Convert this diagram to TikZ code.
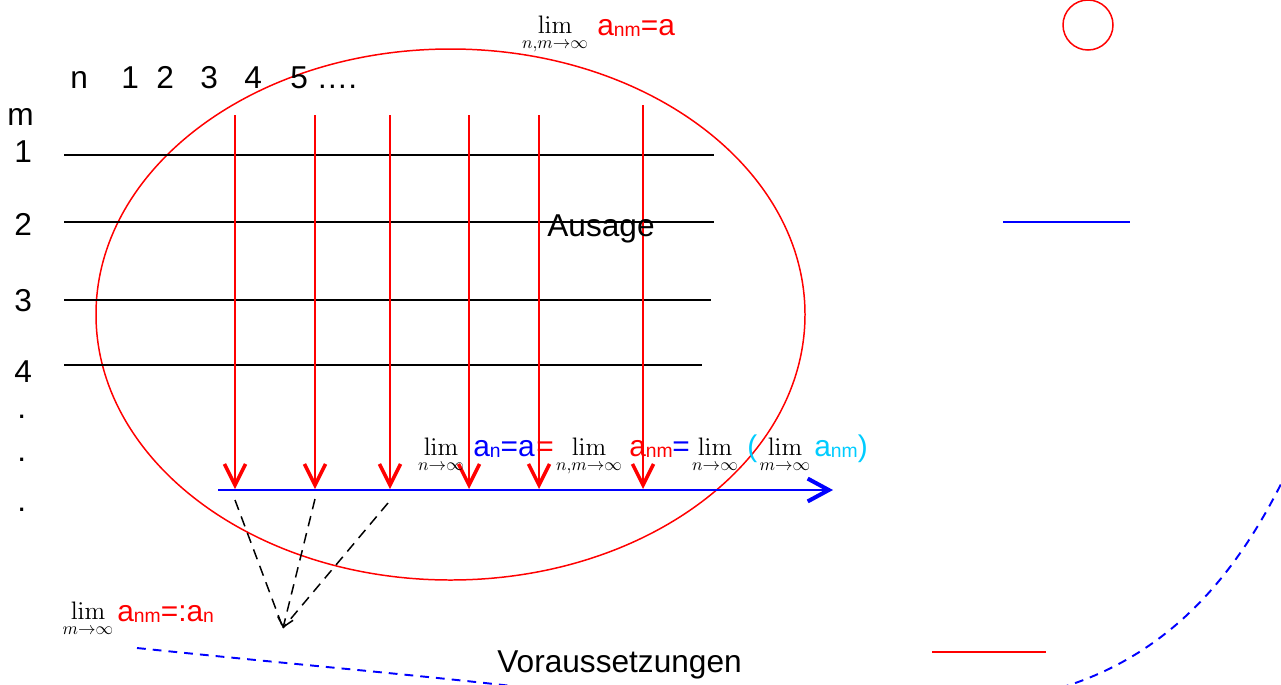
\documentclass[tikz,border=0pt]{standalone}
\usepackage[no-math]{fontspec}
\setmainfont{Liberation Sans}
\usepackage{amsmath}
\usetikzlibrary{arrows.meta,positioning}
\definecolor{hellblau}{RGB}{0,204,255}
\newcommand{\tief}[1]{\raisebox{-1pt}{\fontsize{11}{11}\selectfont #1}}

\begin{document}
\begin{tikzpicture}[x=0.02cm, y=-0.02cm,
    txt/.style={inner sep=0pt, anchor=base west, font=\fontsize{18}{20}\selectfont},
    frm/.style={inner sep=0pt, anchor=base west, font=\fontsize{17}{20}\selectfont},
    limes/.style={inner sep=0pt, anchor=base, font=\fontsize{14}{16}\selectfont},
    zeile/.style={black, line width=0.85pt},
    pfeil/.style={red, line width=0.75pt, -{Straight Barb[length=12pt, width=12pt, line width=2pt]}},
    strich/.style={black, line width=0.85pt, dash pattern=on 6pt off 4pt}]
    \useasboundingbox (0,0) rectangle (1281,684);

    % Ellipse und Kreis
    \node[draw=red, line width=0.85pt, circle, inner sep=0pt, minimum size=50*0.02cm] (kreis) at (1088,25) {};
    \draw[red, line width=0.85pt] (450.5,314.5) ellipse [x radius=354.5*0.02cm, y radius=265.5*0.02cm];

    % Beschriftung der Spalten und Zeilen
    \node[txt] (n) at (70,88) {n};
    \node[txt] (n1) at (121,88) {1};
    \node[txt] (n2) at (156,88) {2};
    \node[txt] (n3) at (200,88) {3};
    \node[txt] (n4) at (244,88) {4};
    \node[txt] (n5) at (290,88) {5 ….};
    \node[txt] (m) at (7,125) {m};
    \node[txt] (m1) at (14,162) {1};
    \node[txt] (m2) at (14,235) {2};
    \node[txt] (m3) at (14,311) {3};
    \node[txt] (m4) at (14,382) {4};
    \node[txt] (p1) at (17,418) {.};
    \node[txt] (p2) at (17,461) {.};
    \node[txt] (p3) at (17,511) {.};

    % Zeilen
    \coordinate (z1a) at (64,155); \coordinate (z1b) at (714,155);
    \coordinate (z2a) at (64,222); \coordinate (z2b) at (714,222);
    \coordinate (z3a) at (64,300); \coordinate (z3b) at (711,300);
    \coordinate (z4a) at (64,365); \coordinate (z4b) at (702,365);
    \draw[zeile] (z1a) -- (z1b);
    \draw[zeile] (z2a) -- (z2b);
    \draw[zeile] (z3a) -- (z3b);
    \draw[zeile] (z4a) -- (z4b);

    % Spalten
    \coordinate (o1) at (235,115); \coordinate (u1) at (235,489);
    \coordinate (o2) at (315,115); \coordinate (u2) at (315,489);
    \coordinate (o3) at (390,115); \coordinate (u3) at (390,489);
    \coordinate (o4) at (469,115); \coordinate (u4) at (469,489);
    \coordinate (o5) at (539,115); \coordinate (u5) at (539,489);
    \coordinate (o6) at (643,105); \coordinate (u6) at (643,489);
    \draw[pfeil] (o1) -- (u1);
    \draw[pfeil] (o2) -- (u2);
    \draw[pfeil] (o3) -- (u3);
    \draw[pfeil] (o4) -- (u4);
    \draw[pfeil] (o5) -- (u5);
    \draw[pfeil] (o6) -- (u6);

    % Achse
    \coordinate (achseA) at (218,490);
    \coordinate (achseB) at (833,490);
    \draw[blue, line width=1.1pt, -{Straight Barb[length=12pt, width=13pt, line width=2.3pt]}] (achseA) -- (achseB);

    % gestrichelte Linien
    \coordinate (s1) at (235,500);
    \coordinate (s2) at (315,499);
    \coordinate (s3) at (388,503);
    \coordinate (spitze) at (283,628);
    \draw[strich] (s1) -- (spitze);
    \draw[strich, -{Straight Barb[length=5pt, width=9pt]}] (s2) -- (spitze);
    \draw[strich] (s3) -- (spitze);

    % kurze Linien
    \coordinate (blauA) at (1003,222); \coordinate (blauB) at (1130,222);
    \coordinate (rotA) at (932,652); \coordinate (rotB) at (1046,652);
    \draw[blue, line width=0.9pt] (blauA) -- (blauB);
    \draw[red, line width=1.1pt] (rotA) -- (rotB);

    % blaue Kurve
    \begin{scope}
        \clip (0,0) rectangle (1281,684);
        \coordinate (k1) at (137,648);
        \coordinate (k2) at (545,690);
        \coordinate (k3) at (1060,688);
        \coordinate (k4) at (1281,484);
        \draw[blue, line width=1.1pt, dash pattern=on 5pt off 4pt] (k1) .. controls (300,665) and (450,678) .. (k2);
        \draw[blue, line width=1.1pt, dash pattern=on 5pt off 4pt] (k3) .. controls (1170,655) and (1235,575) .. (k4);
    \end{scope}

    % Texte
    \node[txt] (ausage) at (547,236) {Ausage};
    \node[txt] (vor) at (497,672) {Voraussetzungen};

    % Grenzwerte oben
    \node[limes] (limO) at (555,33) {$\displaystyle\lim_{n,m\to\infty}$};
    \node[frm, red] (anmO) at (597,35) {a\tief{nm}=a};

    % Grenzwerte unten
    \node[limes] (limU) at (88,619) {$\displaystyle\lim_{m\to\infty}$};
    \node[frm, red] (anmU) at (117,621) {a\tief{nm}=:a\tief{n}};

    % Grenzwerte Mitte
    \node[limes] (lim1) at (441,455) {$\displaystyle\lim_{n\to\infty}$};
    \node[frm, blue] (an) at (473,456) {a\tief{n}=a};
    \node[frm, red] (gl1) at (536,456) {=};
    \node[limes] (lim2) at (589,455) {$\displaystyle\lim_{n,m\to\infty}$};
    \node[frm, red] (anm) at (629,456) {a\tief{nm}};
    \node[frm, blue] (gl2) at (672,456) {=};
    \node[limes] (lim3) at (715,455) {$\displaystyle\lim_{n\to\infty}$};
    \node[frm, hellblau] (kl) at (747,456) {(};
    \node[limes] (lim4) at (785,455) {$\displaystyle\lim_{m\to\infty}$};
    \node[frm, hellblau] (anmK) at (814,456) {a\tief{nm})};
\end{tikzpicture}
\end{document}
